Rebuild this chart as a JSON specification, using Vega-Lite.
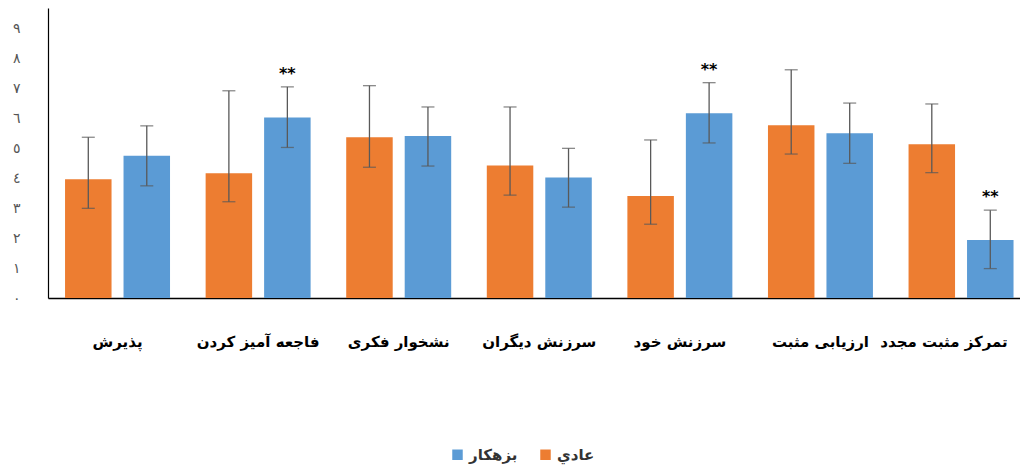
{
  "$schema": "https://vega.github.io/schema/vega-lite/v6.json",
  "width": 972,
  "height": 290,
  "autosize": {"type": "none"},
  "padding": {"left": 48, "top": 8, "right": 0, "bottom": 169},
  "background": "white",
  "config": {"view": {"stroke": null}, "font": "DejaVu Sans"},
  "data": {
    "values": [
      {"cat": "پذیرش", "group": "عادي", "mean": 3.96, "lo": 2.99, "hi": 5.36, "sig": ""},
      {"cat": "پذیرش", "group": "بزهکار", "mean": 4.74, "lo": 3.74, "hi": 5.74, "sig": ""},
      {"cat": "فاجعه آمیز کردن", "group": "عادي", "mean": 4.16, "lo": 3.21, "hi": 6.91, "sig": ""},
      {"cat": "فاجعه آمیز کردن", "group": "بزهکار", "mean": 6.02, "lo": 5.02, "hi": 7.04, "sig": "**"},
      {"cat": "نشخوار فکری", "group": "عادي", "mean": 5.36, "lo": 4.36, "hi": 7.08, "sig": ""},
      {"cat": "نشخوار فکری", "group": "بزهکار", "mean": 5.4, "lo": 4.4, "hi": 6.37, "sig": ""},
      {"cat": "سرزنش دیگران", "group": "عادي", "mean": 4.42, "lo": 3.43, "hi": 6.37, "sig": ""},
      {"cat": "سرزنش دیگران", "group": "بزهکار", "mean": 4.02, "lo": 3.03, "hi": 4.99, "sig": ""},
      {"cat": "سرزنش خود", "group": "عادي", "mean": 3.4, "lo": 2.46, "hi": 5.27, "sig": ""},
      {"cat": "سرزنش خود", "group": "بزهکار", "mean": 6.16, "lo": 5.17, "hi": 7.18, "sig": "**"},
      {"cat": "ارزیابی مثبت", "group": "عادي", "mean": 5.76, "lo": 4.8, "hi": 7.61, "sig": ""},
      {"cat": "ارزیابی مثبت", "group": "بزهکار", "mean": 5.49, "lo": 4.49, "hi": 6.5, "sig": ""},
      {"cat": "تمرکز مثبت مجدد", "group": "عادي", "mean": 5.13, "lo": 4.18, "hi": 6.47, "sig": ""},
      {"cat": "تمرکز مثبت مجدد", "group": "بزهکار", "mean": 1.93, "lo": 0.98, "hi": 2.93, "sig": "**"}
    ]
  },
  "encoding": {
    "x": {
      "field": "cat",
      "type": "nominal",
      "sort": ["پذیرش", "فاجعه آمیز کردن", "نشخوار فکری", "سرزنش دیگران", "سرزنش خود", "ارزیابی مثبت", "تمرکز مثبت مجدد"],
      "scale": {"paddingInner": 0.2, "paddingOuter": 0.057, "align": 0.83},
      "axis": {
        "title": null,
        "labelAngle": 0,
        "ticks": false,
        "domainColor": "#000000",
        "domainWidth": 1.6,
        "labelFont": "DejaVu Sans",
        "labelFontWeight": "bold",
        "labelFontSize": 15,
        "labelColor": "#000000",
        "labelPadding": 36,
        "labelOverlap": false,
        "labelOffset": {"condition": {"test": "datum.value == 'تمرکز مثبت مجدد'", "value": -17}, "value": 0}
      }
    },
    "xOffset": {
      "field": "group",
      "type": "nominal",
      "sort": ["عادي", "بزهکار"],
      "scale": {"paddingInner": 0.205, "paddingOuter": 0.064}
    }
  },
  "layer": [
    {
      "mark": {"type": "bar"},
      "encoding": {
        "y": {
          "field": "mean",
          "type": "quantitative",
          "scale": {"domain": [0, 9.67], "nice": false},
          "axis": {"title": null, "grid": false, "ticks": false, "values": [0, 1, 2, 3, 4, 5, 6, 7, 8, 9], "labelOverlap": false, "labelExpr": "substring('٠١٢٣٤٥٦٧٨٩', datum.value, datum.value + 1)", "labelColor": "#555555", "labelFontSize": 14, "labelPadding": 28, "domainColor": "#000000", "domainWidth": 1.2}
        },
        "color": {
          "field": "group",
          "type": "nominal",
          "scale": {"domain": ["بزهکار", "عادي"], "range": ["#5B9BD5", "#ED7D31"]},
          "legend": {
            "title": null,
            "orient": "none",
            "direction": "horizontal",
            "legendX": 402,
            "legendY": 439,
            "symbolType": "square",
            "symbolSize": 110,
            "symbolStrokeWidth": 0,
            "labelFont": "DejaVu Sans",
            "labelFontWeight": "bold",
            "labelFontSize": 15,
            "labelColor": "#333333",
            "columnPadding": 20
          }
        }
      }
    },
    {
      "mark": {"type": "rule", "color": "#595959", "strokeWidth": 1.3},
      "encoding": {
        "y": {"field": "lo", "type": "quantitative", "axis": {"title": null, "grid": false, "ticks": false, "values": [0, 1, 2, 3, 4, 5, 6, 7, 8, 9], "labelOverlap": false, "labelExpr": "substring('٠١٢٣٤٥٦٧٨٩', datum.value, datum.value + 1)", "labelColor": "#555555", "labelFontSize": 14, "labelPadding": 28, "domainColor": "#000000", "domainWidth": 1.2}},
        "y2": {"field": "hi"}
      }
    },
    {
      "mark": {"type": "tick", "color": "#595959", "size": 13, "thickness": 1.3},
      "encoding": {"y": {"field": "lo", "type": "quantitative", "axis": {"title": null, "grid": false, "ticks": false, "values": [0, 1, 2, 3, 4, 5, 6, 7, 8, 9], "labelOverlap": false, "labelExpr": "substring('٠١٢٣٤٥٦٧٨٩', datum.value, datum.value + 1)", "labelColor": "#555555", "labelFontSize": 14, "labelPadding": 28, "domainColor": "#000000", "domainWidth": 1.2}}}
    },
    {
      "mark": {"type": "tick", "color": "#595959", "size": 13, "thickness": 1.3},
      "encoding": {"y": {"field": "hi", "type": "quantitative", "axis": {"title": null, "grid": false, "ticks": false, "values": [0, 1, 2, 3, 4, 5, 6, 7, 8, 9], "labelOverlap": false, "labelExpr": "substring('٠١٢٣٤٥٦٧٨٩', datum.value, datum.value + 1)", "labelColor": "#555555", "labelFontSize": 14, "labelPadding": 28, "domainColor": "#000000", "domainWidth": 1.2}}}
    },
    {
      "mark": {"type": "text", "dy": -13, "fontWeight": "bold", "fontSize": 16, "color": "#000000", "font": "DejaVu Sans"},
      "encoding": {
        "y": {"field": "hi", "type": "quantitative", "axis": {"title": null, "grid": false, "ticks": false, "values": [0, 1, 2, 3, 4, 5, 6, 7, 8, 9], "labelOverlap": false, "labelExpr": "substring('٠١٢٣٤٥٦٧٨٩', datum.value, datum.value + 1)", "labelColor": "#555555", "labelFontSize": 14, "labelPadding": 28, "domainColor": "#000000", "domainWidth": 1.2}},
        "text": {"field": "sig"}
      }
    }
  ]
}
